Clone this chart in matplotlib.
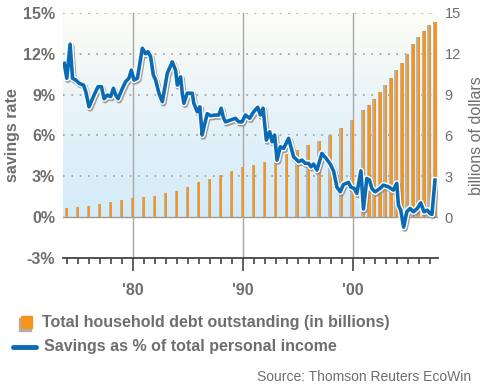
import numpy as np
import matplotlib
matplotlib.use('Agg')
import matplotlib.pyplot as plt
import matplotlib.patheffects as pe
from matplotlib.colors import LinearSegmentedColormap
from matplotlib.patches import Rectangle
from matplotlib.lines import Line2D

plt.rcParams['font.family'] = ['Liberation Sans', 'DejaVu Sans']

# household debt (trillions, drawn against right axis)
debt_years = [1974, 1975, 1976, 1977, 1978, 1979, 1980, 1981, 1982, 1983, 1984,
              1985, 1986, 1987, 1988, 1989, 1990, 1991, 1992, 1993, 1994, 1995,
              1996, 1997, 1998, 1999, 2000,
              2001, 2001.5, 2002, 2002.5, 2003, 2003.5, 2004, 2004.5, 2005,
              2005.5, 2006, 2006.5, 2007, 2007.5]
debt_vals = [0.64, 0.71, 0.80, 0.93, 1.08, 1.25, 1.37, 1.49, 1.57, 1.74, 1.93,
             2.25, 2.55, 2.77, 3.09, 3.36, 3.65, 3.85, 4.04, 4.24, 4.63, 4.93,
             5.27, 5.56, 6.03, 6.54, 7.13,
             7.84, 8.24, 8.68, 9.17, 9.68, 10.2, 10.78, 11.35, 11.99,
             12.7, 13.2, 13.7, 14.1, 14.3]

# savings rate (%)
sav_years = [1973.77, 1974.01, 1974.31, 1974.53, 1974.83, 1975.13, 1975.53, 1975.74,
             1976.03, 1976.49, 1976.85, 1977.16, 1977.40, 1977.70, 1978.00, 1978.25,
             1978.46, 1978.67, 1979.07, 1979.36, 1979.66, 1979.88, 1980.12, 1980.43,
             1980.88, 1981.18, 1981.39, 1981.63, 1981.88, 1982.09, 1982.39, 1982.70,
             1983.15, 1983.60, 1983.90, 1984.06, 1984.36, 1984.51, 1984.66, 1984.96,
             1985.42, 1985.56, 1985.87, 1986.11, 1986.32, 1986.53, 1986.78, 1987.08,
             1987.53, 1987.83, 1988.05, 1988.26, 1988.44, 1988.89, 1989.35, 1989.65,
             1989.95, 1990.25, 1990.64, 1991.01, 1991.37, 1991.62, 1991.86, 1992.16,
             1992.46, 1992.68, 1992.91, 1993.13, 1993.43, 1993.73, 1994.18, 1994.64,
             1995.09, 1995.40, 1995.70, 1996.00, 1996.22, 1996.45, 1996.76, 1997.21,
             1997.60, 1997.97, 1998.27, 1998.58, 1998.88, 1999.17, 1999.63, 1999.85,
             2000.15, 2000.39, 2000.76, 2000.99, 2001.30, 2001.54, 2001.75, 2002.05,
             2002.50, 2002.80, 2003.26, 2003.71, 2004.02, 2004.17, 2004.38, 2004.65,
             2004.93, 2005.23, 2005.53, 2005.89, 2006.20, 2006.50, 2006.80, 2007.04,
             2007.22, 2007.50]
sav_vals = [11.3, 10.2, 12.7, 10.2, 10.07, 9.83, 9.7, 9.2,
            8.1, 8.97, 9.58, 9.58, 8.7, 8.97, 8.85, 9.46,
            8.97, 8.7, 9.46, 9.95, 10.2, 10.8, 10.07, 10.2,
            12.4, 12.0, 12.15, 11.8, 10.44, 10.07, 9.1, 8.48,
            10.56, 11.4, 10.8, 9.7, 10.3, 9.1, 8.36, 9.1,
            9.1, 8.36, 7.74, 8.1, 6.03, 6.76, 7.6, 7.45,
            7.5, 7.5, 8.0, 7.3, 7.0, 7.13, 7.26, 7.0,
            7.0, 7.5, 7.26, 7.74, 8.07, 7.5, 8.0, 5.66,
            6.27, 5.54, 6.03, 4.19, 5.17, 5.05, 5.79, 4.43,
            4.07, 4.19, 3.95, 3.95, 3.70, 3.90, 3.46, 4.68,
            4.31, 3.9, 3.4, 2.2, 1.86, 2.4, 2.55, 2.2,
            2.11, 1.74, 3.4, 0.6, 2.84, 2.72, 2.11, 1.86,
            2.11, 2.35, 2.23, 1.99, 2.48, 0.88, 0.51, -0.73,
            0.39, 0.64, 0.39, 0.64, 1.05, 0.39, 0.51, 0.27,
            0.2, 2.72]

left_ticks = [-3, 0, 3, 6, 9, 12, 15]
left_labels = ['-3%', '0%', '3%', '6%', '9%', '12%', '15%']
right_ticks = [0, 3, 6, 9, 12, 15]
decades = [1980, 1990, 2000]
decade_labels = ["'80", "'90", "'00"]

gray = '#6e6e6e'
orange = '#f7941d'
blue = '#0a6bb5'
x0, x1 = 1973.7, 2007.75

fig = plt.figure(figsize=(4.9, 3.86), dpi=100)
ax = fig.add_axes([0.1294, 0.3316, 0.764, 0.635])
ax.set_xlim(x0, x1)
ax.set_ylim(-3, 15)

# background gradient above zero
cmap = LinearSegmentedColormap.from_list('bg', ['#d3ebf8', '#e6f3f9', '#fdfdf5'])
grad = np.linspace(0, 1, 256).reshape(-1, 1)
ax.imshow(grad, cmap=cmap, extent=[x0, x1, 0, 15], origin='lower',
          aspect='auto', zorder=0)

# grid
for yv in right_ticks[1:]:
    ax.axhline(yv, color='#9a9a9a', lw=1.2, ls=(0, (1, 4)), zorder=1)
ax.axhline(0, color='#9a9a9a', lw=1.0, zorder=1)
for d in decades:
    ax.axvline(d, color='#a8a8a8', lw=1.0, zorder=1)

# bars with shadow
dy = np.array(debt_years)
ax.bar(dy - 0.08, debt_vals, width=0.22, color='#b5b5b5', zorder=2)
ax.bar(dy + 0.04, debt_vals, width=0.24, color=orange, zorder=3)

# savings line
ax.plot(sav_years, sav_vals, color=blue, lw=2.6, zorder=5, solid_joinstyle='round',
        path_effects=[pe.SimpleLineShadow(offset=(0.8, -1.2), shadow_color='#888888',
                                          alpha=0.8, linewidth=4.5),
                      pe.Stroke(linewidth=4.6, foreground='white'),
                      pe.Normal()])

for s in ['top', 'left', 'right']:
    ax.spines[s].set_visible(False)
ax.spines['bottom'].set_color('#444444')
ax.spines['bottom'].set_linewidth(1.3)

ax.set_xticks(decades)
ax.set_xticklabels(decade_labels, fontsize=11.5, fontweight='bold', color=gray)
ax.set_xticks(range(1974, 2008), minor=True)
ax.tick_params(axis='x', which='major', length=9, width=1.2, color='#444444', pad=9)
ax.tick_params(axis='x', which='minor', length=4.5, width=1.2, color='#444444')

ax.set_yticks(left_ticks)
ax.set_yticklabels(left_labels, fontsize=11.5, fontweight='bold', color=gray)
ax.tick_params(axis='y', length=0, pad=6)
ax.set_ylabel('savings rate', fontsize=11.5, fontweight='bold', color=gray, labelpad=2)

ax2 = ax.twinx()
ax2.set_ylim(-3, 15)
ax2.set_yticks(right_ticks)
ax2.set_yticklabels([str(t) for t in right_ticks], fontsize=10.5, color=gray)
ax2.tick_params(axis='y', length=0, pad=5)
for s in ['top', 'left', 'right', 'bottom']:
    ax2.spines[s].set_visible(False)
ax2.set_ylabel('billions of dollars', fontsize=11.5, color=gray, labelpad=6)

# legend
fig.patches.append(Rectangle((19 / 490, 1 - 331 / 386), 12 / 490, 13 / 386,
                             transform=fig.transFigure, color='#b0b0b0', zorder=1))
fig.patches.append(Rectangle((21 / 490, 1 - 328 / 386), 11 / 490, 12 / 386,
                             transform=fig.transFigure, color=orange, zorder=2))
fig.text(42 / 490, 1 - 322 / 386, 'Total household debt outstanding (in billions)',
         fontsize=11.5, fontweight='bold', color=gray, va='center')
fig.lines.append(Line2D([13 / 490, 36 / 490], [1 - 347 / 386, 1 - 347 / 386],
                        transform=fig.transFigure, color=blue, lw=3.5,
                        solid_capstyle='round'))
fig.text(44 / 490, 1 - 347 / 386, 'Savings as % of total personal income',
         fontsize=11.5, fontweight='bold', color=gray, va='center')
fig.text(471 / 490, 1 - 377 / 386, 'Source: Thomson Reuters EcoWin',
         fontsize=10, color=gray, va='center', ha='right')

fig.savefig('out.png', dpi=100)
